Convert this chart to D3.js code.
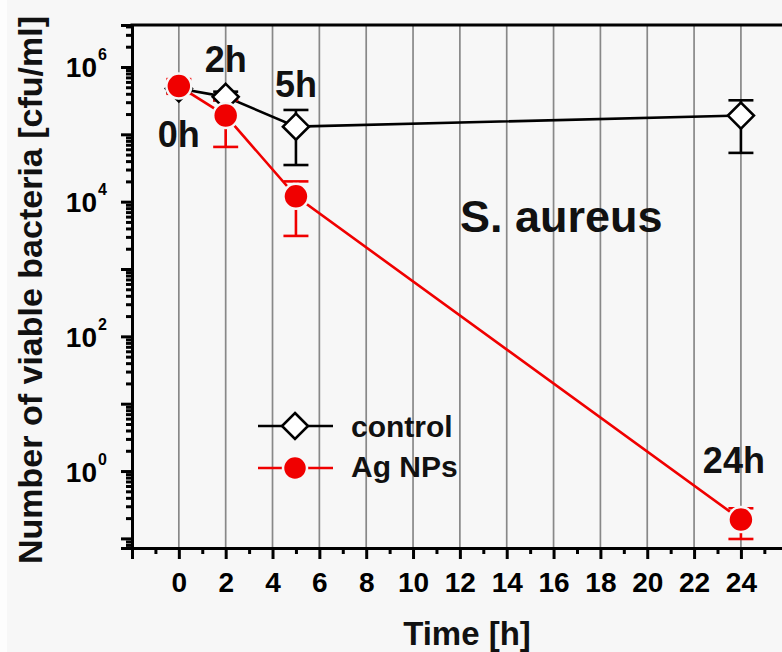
<!DOCTYPE html>
<html>
<head>
<meta charset="utf-8">
<script src="https://cdn.jsdelivr.net/npm/d3@7"></script>
<style>
  body { margin: 0; background: #f7f7f7; }
  svg { display: block; font-family: "Liberation Sans", Arial, sans-serif; font-weight: bold; }
</style>
</head>
<body>
<div id="chart-area"></div>
<script>
// time points (h)
var times = [0, 2, 5, 24];

// control, cfu/ml with error bar ends
var control   = [4.8e5, 3.6e5, 1.3e5, 1.9e5];
var controlLo = [4.2e5, 3.2e5, 3.5e4, 5.3e4];
var controlHi = [5.5e5, 4.3e5, 2.3e5, 3.2e5];

// Ag NPs, cfu/ml with error bar ends
var ag   = [5.2e5, 1.9e5, 1.2e4, 0.19];
var agLo = [4.0e5, 6.5e4, 3.1e3, 0.098];
var agHi = [6.6e5, 3.2e5, 2.0e4, 0.28];

var pointLabels = ["0h", "2h", "5h", "24h"];
var xMajor = [-2, 0, 2, 4, 6, 8, 10, 12, 14, 16, 18, 20, 22, 24, 26];
var xLabels = [0, 2, 4, 6, 8, 10, 12, 14, 16, 18, 20, 22, 24];
var yDecades = [-1, 0, 1, 2, 3, 4, 5, 6];
var yLabelled = [0, 2, 4, 6];

var W = 782, H = 652;
var plotLeft = 132, plotTop = 25, plotBottom = 548;
var bg = "#f7f7f7";

var svg = d3.select("#chart-area").append("svg")
    .attr("width", W)
    .attr("height", H);

svg.append("rect").attr("width", W).attr("height", H).attr("fill", bg);
svg.append("rect").attr("width", 7).attr("height", H).attr("fill", "#fdfdfd");

var x = d3.scaleLinear().domain([-2, 26]).range([plotLeft, plotLeft + 28 * 23.42]);
var y = d3.scaleLog().domain([0.072, 4.2e6]).range([plotBottom, plotTop]);

// vertical grid
svg.append("g")
    .selectAll("line")
    .data(xLabels)
    .enter().append("line")
        .attr("x1", function(d){ return x(d); })
        .attr("x2", function(d){ return x(d); })
        .attr("y1", plotTop)
        .attr("y2", plotBottom)
        .attr("stroke", "#888")
        .attr("stroke-width", 1.7);

// X axis
var xAxis = svg.append("g")
    .attr("transform", "translate(0," + plotBottom + ")")
    .call(d3.axisBottom(x).tickValues(xMajor).tickSize(11).tickPadding(13)
        .tickFormat(function(d){ return (d >= 0 && d <= 24) ? d : ""; }));
svg.append("g")
    .attr("transform", "translate(0," + plotBottom + ")")
    .call(d3.axisBottom(x).tickValues(d3.range(-1, 26, 2)).tickSize(6).tickFormat(""))
    .call(function(g){ g.select(".domain").remove(); });
xAxis.attr("font-size", 28)
    .attr("font-family", "Liberation Sans, Arial, sans-serif");
xAxis.selectAll("text")
    .attr("fill", "#000");

// Y axis
var yMajor = yDecades.map(function(k){ return Math.pow(10, k); });
var yMinor = [];
d3.range(-2, 7).forEach(function(k){
    for (var m = 2; m <= 9; m++) {
        var v = m * Math.pow(10, k);
        if (v > 0.072 && v < 4.2e6) yMinor.push(v);
    }
});
var yAxis = svg.append("g")
    .attr("transform", "translate(" + plotLeft + ",0)")
    .call(d3.axisLeft(y).tickValues(yMajor).tickSize(11).tickFormat(""));
svg.append("g")
    .attr("transform", "translate(" + plotLeft + ",0)")
    .call(d3.axisLeft(y).tickValues(yMinor).tickSize(6).tickFormat(""))
    .call(function(g){ g.select(".domain").remove(); });

yAxis.attr("font-family", "Liberation Sans, Arial, sans-serif");
yAxis.selectAll(".tick")
    .filter(function(d){ return yLabelled.indexOf(Math.round(Math.log10(d))) >= 0; })
    .each(function(d){
        var t = d3.select(this);
        t.append("text")
            .attr("x", -35).attr("y", 10)
            .attr("text-anchor", "end")
            .attr("font-size", 28)
            .attr("fill", "#000")
            .text("10");
        t.append("text")
            .attr("x", -34).attr("y", -7)
            .attr("text-anchor", "start")
            .attr("font-size", 16)
            .attr("fill", "#000")
            .text(Math.round(Math.log10(d)));
    });

svg.selectAll(".domain, .tick line")
    .attr("stroke", "#000")
    .attr("stroke-width", 3);

// top frame line
svg.append("line")
    .attr("x1", plotLeft - 1.5).attr("x2", W)
    .attr("y1", plotTop).attr("y2", plotTop)
    .attr("stroke", "#000").attr("stroke-width", 3);

// series lines
var line = d3.line()
    .x(function(d){ return x(d[0]); })
    .y(function(d){ return y(d[1]); });

svg.append("path")
    .datum(d3.zip(times, control))
    .attr("d", line)
    .attr("fill", "none")
    .attr("stroke", "#000")
    .attr("stroke-width", 2.6);

svg.append("path")
    .datum(d3.zip(times, ag))
    .attr("d", line)
    .attr("fill", "none")
    .attr("stroke", "#f00000")
    .attr("stroke-width", 2.6);

// error bars
function errorBars(lo, hi, color) {
    var g = svg.append("g").attr("stroke", color).attr("stroke-width", 2.6);
    times.forEach(function(t, i){
        var cx = x(t);
        g.append("line").attr("x1", cx).attr("x2", cx)
            .attr("y1", y(lo[i])).attr("y2", y(hi[i]));
        [lo[i], hi[i]].forEach(function(v){
            g.append("line").attr("x1", cx - 12.5).attr("x2", cx + 12.5)
                .attr("y1", y(v)).attr("y2", y(v));
        });
    });
}
errorBars(controlLo, controlHi, "#000");
errorBars(agLo, agHi, "#f00000");

// markers
var diamond = "M0,-13L13,0L0,13L-13,0Z";

svg.append("g")
    .selectAll("path")
    .data(d3.zip(times, control))
    .enter().append("path")
        .attr("transform", function(d){ return "translate(" + x(d[0]) + "," + y(d[1]) + ")"; })
        .attr("d", diamond)
        .attr("fill", "#fff")
        .attr("stroke", "#000")
        .attr("stroke-width", 2.6);

svg.append("g")
    .selectAll("circle")
    .data(d3.zip(times, ag))
    .enter().append("circle")
        .attr("cx", function(d){ return x(d[0]); })
        .attr("cy", function(d){ return y(d[1]); })
        .attr("r", 12.5)
        .attr("fill", "#f00000")
        .attr("stroke", bg)
        .attr("stroke-width", 2.5);

// time point labels
var labelPos = [[0, 147], [2, 72], [5, 97], [23.7, 473]];
svg.append("g")
    .selectAll("text")
    .data(pointLabels)
    .enter().append("text")
        .attr("x", function(d, i){ return x(labelPos[i][0]); })
        .attr("y", function(d, i){ return labelPos[i][1]; })
        .attr("text-anchor", "middle")
        .attr("font-size", 36)
        .attr("fill", "#111")
        .text(function(d){ return d; });

svg.append("text")
    .attr("x", 460).attr("y", 232)
    .attr("font-size", 45)
    .attr("fill", "#111")
    .text("S. aureus");

// legend
var legend = svg.append("g");
legend.append("line").attr("x1", 258).attr("x2", 333).attr("y1", 426).attr("y2", 426)
    .attr("stroke", "#000").attr("stroke-width", 2.6);
legend.append("path").attr("transform", "translate(295,426)").attr("d", diamond)
    .attr("fill", "#fff").attr("stroke", "#000").attr("stroke-width", 2.6);
legend.append("text").attr("x", 351).attr("y", 437).attr("font-size", 30).attr("fill", "#111")
    .text("control");

legend.append("line").attr("x1", 258).attr("x2", 333).attr("y1", 468).attr("y2", 468)
    .attr("stroke", "#f00000").attr("stroke-width", 2.6);
legend.append("circle").attr("cx", 295).attr("cy", 468).attr("r", 12)
    .attr("fill", "#f00000").attr("stroke", bg).attr("stroke-width", 2.5);
legend.append("text").attr("x", 351).attr("y", 477).attr("font-size", 30).attr("fill", "#111")
    .text("Ag NPs");

// axis titles
svg.append("text")
    .attr("x", 467).attr("y", 645)
    .attr("text-anchor", "middle")
    .attr("font-size", 33)
    .attr("fill", "#111")
    .text("Time [h]");

svg.append("text")
    .attr("transform", "rotate(-90)")
    .attr("x", -290).attr("y", 42)
    .attr("text-anchor", "middle")
    .attr("font-size", 34)
    .attr("fill", "#111")
    .text("Number of viable bacteria [cfu/ml]");
</script>
</body>
</html>
